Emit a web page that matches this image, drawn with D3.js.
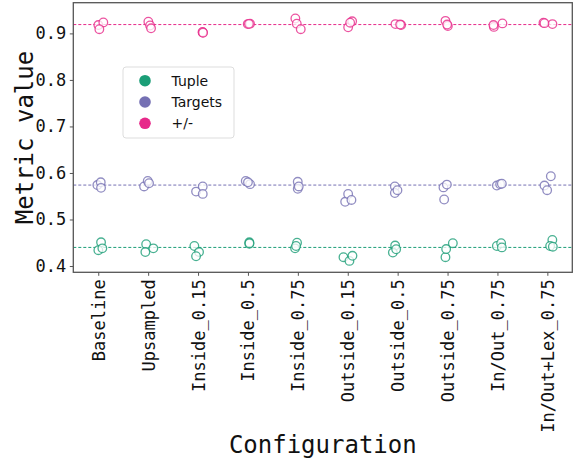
<!DOCTYPE html>
<html><head><meta charset="utf-8">
<script src="https://cdn.jsdelivr.net/npm/d3@7"></script>
<style>body{margin:0;background:#fff}svg{display:block}</style>
</head><body>
<script>
const categories = ["Baseline","Upsampled","Inside_0.15","Inside_0.5","Inside_0.75","Outside_0.15","Outside_0.5","Outside_0.75","In/Out_0.75","In/Out+Lex_0.75"];
const seriesNames = ["Tuple","Targets","+/-"];
const seriesColors = ["#1b9e77","#7570b3","#e7298a"];
// three runs per configuration
const tupleValues = [
  [0.451,0.434,0.438],[0.447,0.430,0.438],[0.443,0.430,0.421],[0.451,0.448,0.449],[0.450,0.438,0.443],
  [0.419,0.411,0.422],[0.444,0.429,0.436],[0.419,0.4365,0.449],[0.443,0.449,0.440],[0.456,0.443,0.4415]];
const tupleJitter = [
  [0.056,0.002,0.082],[-0.04,-0.056,0.104],[-0.074,0.02,-0.04],[0.028,0.028,0.03],[-0.016,-0.056,-0.036],
  [-0.086,0.034,0.094],[-0.05,-0.096,-0.03],[-0.042,-0.028,0.106],[-0.012,0.074,0.088],[0.1,0.056,0.11]];
const targetsValues = [
  [0.574,0.580,0.568],[0.571,0.583,0.578],[0.560,0.571,0.555],[0.583,0.576,0.580],[0.581,0.566,0.571],
  [0.538,0.555,0.542],[0.571,0.557,0.563],[0.543,0.569,0.575],[0.573,0.576,0.577],[0.593,0.573,0.563]];
const targetsJitter = [
  [-0.018,0.05,0.056],[-0.082,-0.008,0.018],[-0.04,0.094,0.094],[-0.044,0.042,0.0],[-0.002,-0.002,0.018],
  [-0.052,0.008,0.074],[-0.056,-0.056,-0.004],[-0.068,-0.082,-0.014],[-0.012,0.054,0.088],[0.07,-0.058,-0.004]];
const signValues = [
  [0.918,0.9236,0.909],[0.925,0.917,0.911],[0.902,0.903,0.9015],[0.920,0.921,0.9205],[0.932,0.921,0.909],
  [0.913,0.926,0.923],[0.920,0.918,0.919],[0.927,0.916,0.919],[0.914,0.9215,0.918],[0.923,0.920,0.922]];
const signJitter = [
  [0.002,0.102,0.022],[0.004,0.038,0.058],[0.094,0.09,0.1],[-0.004,0.042,0.02],[-0.05,-0.022,0.058],
  [0.008,0.088,0.048],[-0.044,0.07,0.05],[-0.042,0.006,-0.008],[-0.072,0.1,-0.08],[-0.078,0.102,-0.058]];
const meanLines = [0.440,0.574,0.919];
const yTicks = [0.4,0.5,0.6,0.7,0.8,0.9];
const yDomain = [0.3865,0.966];
const xLabel = "Configuration";
const yLabel = "Metric value";

const W=576,H=461;
const m={left:73.3,right:576-572.3,top:2.7,bottom:461-272.3};
const svg=d3.select("body").append("svg").attr("width",W).attr("height",H);
const x=d3.scaleLinear().domain([-0.5,categories.length-0.5]).range([m.left,W-m.right]);
const y=d3.scaleLinear().domain(yDomain).range([H-m.bottom,m.top]);
const mono="'DejaVu Sans Mono', monospace";

// mean lines
svg.append("g").selectAll("line").data(meanLines).join("line")
  .attr("x1",m.left).attr("x2",W-m.right)
  .attr("y1",d=>y(d)).attr("y2",d=>y(d))
  .attr("stroke",(d,i)=>seriesColors[i]).attr("stroke-width",1)
  .attr("stroke-dasharray","3,2");

// points
const allVals=[tupleValues,targetsValues,signValues];
const allJit=[tupleJitter,targetsJitter,signJitter];
allVals.forEach((vals,s)=>{
  const pts=[];
  vals.forEach((arr,ci)=>arr.forEach((v,k)=>pts.push({ci,v,j:allJit[s][ci][k]})));
  svg.append("g").selectAll("circle").data(pts).join("circle")
    .attr("cx",d=>x(d.ci+d.j)).attr("cy",d=>y(d.v)).attr("r",4.3)
    .attr("fill","#fff").attr("fill-opacity",0.75)
    .attr("stroke",seriesColors[s]).attr("stroke-opacity",0.8).attr("stroke-width",1.3);
});

// frame
svg.append("rect").attr("x",m.left).attr("y",m.top)
  .attr("width",W-m.right-m.left).attr("height",H-m.bottom-m.top)
  .attr("fill","none").attr("stroke","#555").attr("stroke-width",1.3);

// y axis
const ya=svg.append("g").attr("transform",`translate(${m.left},0)`)
  .call(d3.axisLeft(y).tickValues(yTicks).tickFormat(d3.format(".1f")).tickSize(3.5).tickPadding(3.5));
ya.select(".domain").remove();
ya.selectAll("line").attr("stroke","#555");
ya.selectAll("text").attr("font-family",mono).attr("font-size",17).attr("fill","#111");

// x axis
const xa=svg.append("g").attr("transform",`translate(0,${H-m.bottom})`)
  .call(d3.axisBottom(x).tickValues(d3.range(categories.length)).tickFormat(i=>categories[i]).tickSize(3.5).tickPadding(3.5));
xa.select(".domain").remove();
xa.selectAll("line").attr("stroke","#555");
xa.selectAll("text").attr("font-family",mono).attr("font-size",17).attr("fill","#111")
  .attr("transform","rotate(-90)").attr("text-anchor","end")
  .attr("x",-7).attr("y",0).attr("dy","0.35em");

// axis labels
svg.append("text").attr("x",(m.left+W-m.right)/2).attr("y",453)
  .attr("text-anchor","middle").attr("font-family",mono).attr("font-size",24).attr("fill","#111").text(xLabel);
svg.append("text").attr("transform",`translate(32.5,${(m.top+H-m.bottom)/2}) rotate(-90)`)
  .attr("text-anchor","middle").attr("font-family",mono).attr("font-size",24).attr("fill","#111").text(yLabel);

// legend
const lg=svg.append("g").attr("transform","translate(123,67)");
lg.append("rect").attr("width",111).attr("height",71).attr("rx",3)
  .attr("fill","#fff").attr("fill-opacity",0.8).attr("stroke","#ddd").attr("stroke-width",1);
seriesNames.forEach((n,i)=>{
  const gy=13.7+i*21.3;
  lg.append("circle").attr("cx",22).attr("cy",gy).attr("r",5.8).attr("fill",seriesColors[i]);
  lg.append("text").attr("x",48.5).attr("y",gy).attr("dy","0.35em")
    .attr("font-family","'DejaVu Sans', sans-serif").attr("font-size",14).attr("fill","#111").text(n);
});
</script>
</body></html>
